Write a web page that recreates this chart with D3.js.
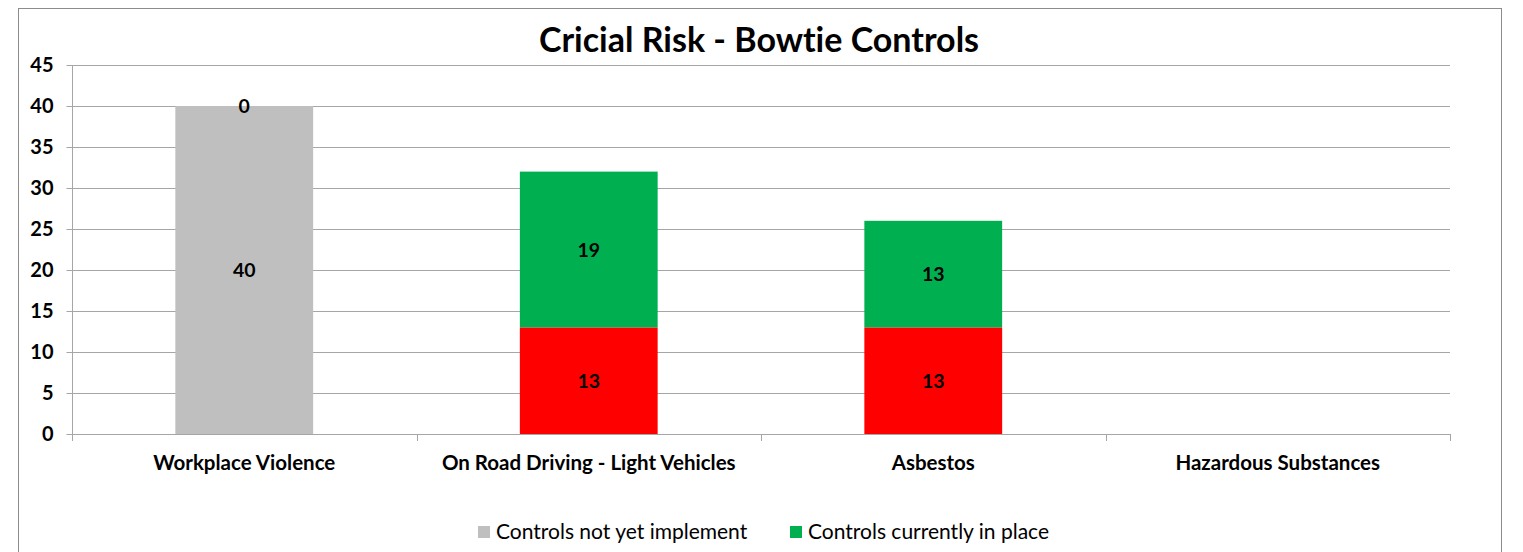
<!DOCTYPE html>
<html><head><meta charset="utf-8">
<script src="https://cdn.jsdelivr.net/npm/d3@7"></script>
<style>body{margin:0;background:#fff}svg{display:block}text{font-variant-ligatures:none;font-feature-settings:"liga" 0}</style>
</head><body><svg id="c" width="1523" height="552"></svg>
<script>
const categories = ["Workplace Violence", "On Road Driving - Light Vehicles", "Asbestos", "Hazardous Substances"];
const notYetImplemented = [40, 13, 13, null];
const notYetColors = ["#bfbfbf", "#ff0000", "#ff0000", "#ff0000"];
const currentlyInPlace = [0, 19, 13, null];
const yTicks = [0, 5, 10, 15, 20, 25, 30, 35, 40, 45];
const seriesNames = ["Controls not yet implement", "Controls currently in place"];
const seriesColors = ["#bfbfbf", "#00b050"];

const svg = d3.select("#c");
const font = "Lato, 'Open Sans', sans-serif";
const m = {l: 72, r: 1450, t: 65, b: 434};

svg.append("rect").attr("x", 18.5).attr("y", 8.5).attr("width", 1483).attr("height", 560)
  .attr("fill", "#fff").attr("stroke", "#8c8c8c").attr("stroke-width", 1);

const x = d3.scaleBand().domain(categories).range([m.l, m.r]).paddingInner(0.6).paddingOuter(0.3);
const y = d3.scaleLinear().domain([0, 45]).range([m.b, m.t]);

// grid
svg.append("g").selectAll("line").data(yTicks.filter(d => d > 0)).join("line")
  .attr("x1", m.l).attr("x2", m.r).attr("y1", d => y(d) + 0.5).attr("y2", d => y(d) + 0.5)
  .attr("stroke", "#a6a6a6").attr("stroke-width", 1);

// bars
const stack = categories.map((c, i) => ({c, a: notYetImplemented[i], b: currentlyInPlace[i], col: notYetColors[i]}));
const g = svg.append("g");
stack.forEach(d => {
  if (d.a == null) return;
  g.append("rect").attr("x", x(d.c)).attr("width", x.bandwidth())
    .attr("y", y(d.a)).attr("height", y(0) - y(d.a)).attr("fill", d.col);
  g.append("rect").attr("x", x(d.c)).attr("width", x.bandwidth())
    .attr("y", y(d.a + d.b)).attr("height", y(d.a) - y(d.a + d.b)).attr("fill", seriesColors[1]);
});
// labels
stack.forEach(d => {
  if (d.a == null) return;
  const cx = x(d.c) + x.bandwidth() / 2;
  [[0, d.a], [d.a, d.a + d.b]].forEach(([lo, hi]) => {
    g.append("text").attr("x", cx).attr("y", y((lo + hi) / 2)).attr("dy", "0.36em")
      .attr("text-anchor", "middle").attr("font-family", font).attr("font-weight", "bold")
      .attr("font-size", 19.5).attr("fill", "#000").text(hi - lo);
  });
});

// y axis
const ya = svg.append("g").attr("transform", `translate(${m.l + 0.5},0)`)
  .call(d3.axisLeft(y).tickValues(yTicks).tickSize(6).tickPadding(13));
ya.select(".domain").attr("stroke", "#a6a6a6").attr("d", `M0,${m.t}V${m.b + 7}`);
ya.selectAll(".tick line").attr("stroke", "#a6a6a6");
ya.selectAll(".tick text").attr("font-family", font).attr("font-weight", "bold").attr("font-size", 20).attr("fill", "#000");

// x axis
const xa = svg.append("g");
xa.append("line").attr("x1", m.l).attr("x2", m.r).attr("y1", m.b + 0.5).attr("y2", m.b + 0.5).attr("stroke", "#a6a6a6");
const bounds = d3.range(categories.length + 1).map(i => m.l + i * (m.r - m.l) / categories.length);
xa.selectAll(".t").data(bounds).join("line").attr("x1", d => Math.round(d) + 0.5).attr("x2", d => Math.round(d) + 0.5)
  .attr("y1", m.b).attr("y2", m.b + 7).attr("stroke", "#a6a6a6");
xa.selectAll("text").data(categories).join("text")
  .attr("x", d => x(d) + x.bandwidth() / 2).attr("y", 463).attr("dy", "0.35em")
  .attr("text-anchor", "middle").attr("font-family", font).attr("font-weight", "bold").attr("font-size", 20.5)
  .attr("fill", "#000").text(d => d);

// title
svg.append("text").attr("x", 759).attr("y", 40).attr("dy", "0.35em").attr("text-anchor", "middle")
  .attr("font-family", font).attr("font-weight", "bold").attr("font-size", 34).attr("fill", "#000")
  .text("Cricial Risk - Bowtie Controls");

// legend
const lg = svg.append("g");
const legX = [478, 790];
seriesNames.forEach((n, i) => {
  lg.append("rect").attr("x", legX[i]).attr("y", 526).attr("width", 12).attr("height", 12).attr("fill", seriesColors[i]);
  lg.append("text").attr("x", legX[i] + 18).attr("y", 532).attr("dy", "0.35em")
    .attr("font-family", font).attr("font-size", 21).attr("fill", "#000").text(n);
});
</script></body></html>
